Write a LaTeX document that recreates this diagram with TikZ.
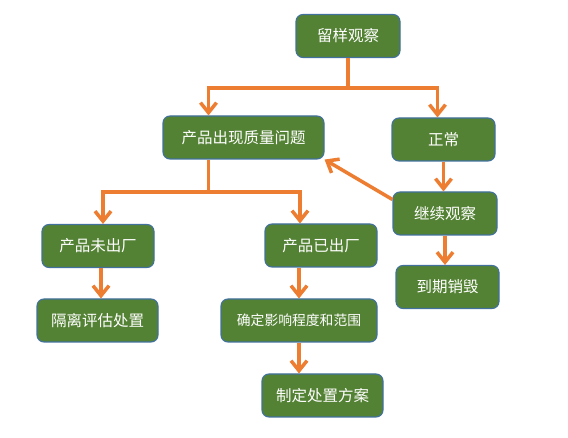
\documentclass[tikz,border=0pt]{standalone}
\usepackage{fontspec}
\setmainfont{Noto Sans CJK SC}
\usetikzlibrary{arrows.meta}
\definecolor{boxgreen}{HTML}{548235}
\definecolor{boxline}{HTML}{41719C}
\definecolor{arroworange}{HTML}{ED7D31}
\begin{document}
\begin{tikzpicture}[x=1pt,y=-1pt,
	box/.style={draw=boxline,line width=1.1pt,fill=boxgreen,rounded corners=7pt,text=white,minimum height=43pt,inner sep=0pt,font=\fontsize{15.5}{18}\selectfont},
	flow/.style={draw=arroworange,line width=3.5pt,-{Straight Barb[length=10pt,width=16pt,line width=3.5pt]}},
	link/.style={draw=arroworange,line width=3.5pt}]
	\useasboundingbox (0,0) rectangle (568,438);
	\def\yA{88};
	\def\yB{192};
	\node[box,minimum width=104pt] (watch) at (348,36) {留样观察};
	\node[box,minimum width=161pt] (problem) at (243.5,137.5) {产品出现质量问题};
	\node[box,minimum width=103pt] (normal) at (443.5,139.5) {正常};
	\node[box,minimum width=104pt] (keep) at (445,213.5) {继续观察};
	\node[box,minimum width=103pt] (destroy) at (447.5,287) {到期销毁};
	\node[box,minimum width=112pt] (notout) at (98,246) {产品未出厂};
	\node[box,minimum width=121pt] (isolate) at (97.5,320.5) {隔离评估处置};
	\node[box,minimum width=112pt] (out) at (321,245.5) {产品已出厂};
	\node[box,minimum width=156pt,font=\fontsize{13.8}{16}\selectfont] (range) at (299,320.5) {确定影响程度和范围};
	\node[box,minimum width=121pt] (plan) at (322.5,395.5) {制定处置方案};
	% branch below the top box
	\coordinate (splitA) at (348,\yA);
	\draw[link] (watch.south) -- (splitA);
	\draw[flow] (splitA) -| ([xshift=-35pt]problem.north);
	\draw[flow] (splitA) -| ([xshift=-6pt]normal.north);
	% branch below the problem box
	\coordinate (splitB) at (208.5,\yB);
	\draw[link] ([xshift=-35pt]problem.south) -- (splitB);
	\draw[flow] (splitB) -| ([xshift=5pt]notout.north);
	\draw[flow] (splitB) -| ([xshift=-21pt]out.north);
	\draw[flow] ([yshift=14pt]keep.west) -- (problem.south east);
	\draw[flow] (normal.south) -- (normal.south |- keep.north);
	\draw[flow] (keep.south) -- (keep.south |- destroy.north);
	\draw[flow] ([xshift=3pt]notout.south) -- ([xshift=3pt]notout.south |- isolate.north);
	\draw[flow] (out.south -| range) -- (range.north);
	\draw[flow] (range.south) -- (range.south |- plan.north);
\end{tikzpicture}
\end{document}
